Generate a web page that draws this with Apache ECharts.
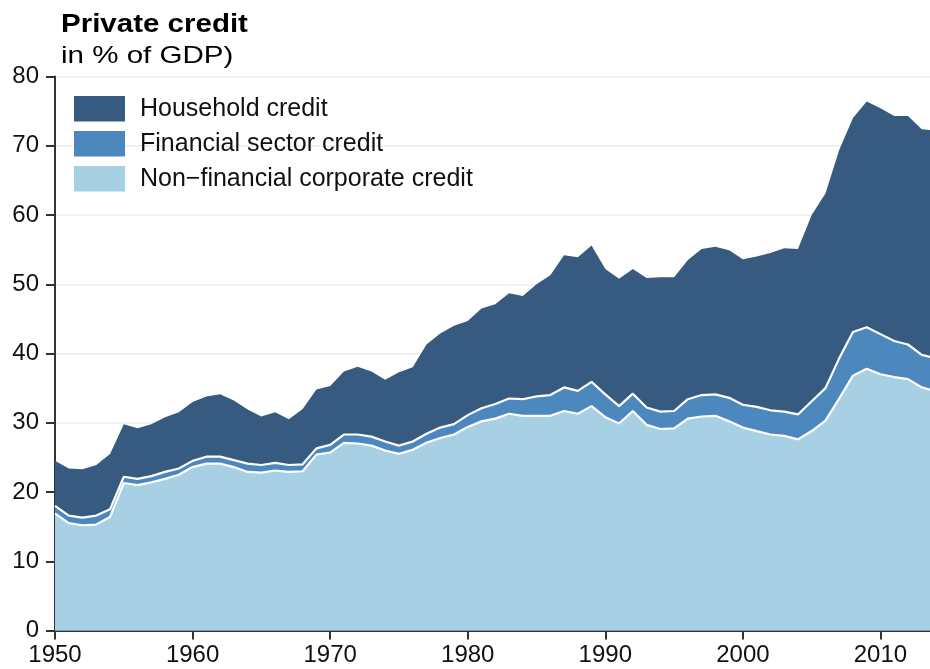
<!DOCTYPE html>
<html>
<head>
<meta charset="utf-8">
<title>Private credit</title>
<script src="https://cdn.jsdelivr.net/npm/echarts@6/dist/echarts.min.js"></script>
<style>
  html, body { margin: 0; padding: 0; background: #fff; }
  #chart { width: 930px; height: 669px; }
</style>
</head>
<body>
<div id="chart"></div>
<script>
// years (last one sits just past the right edge of the plot)
const years = [
  1950, 1951, 1952, 1953, 1954, 1955, 1956, 1957, 1958, 1959,
  1960, 1961, 1962, 1963, 1964, 1965, 1966, 1967, 1968, 1969,
  1970, 1971, 1972, 1973, 1974, 1975, 1976, 1977, 1978, 1979,
  1980, 1981, 1982, 1983, 1984, 1985, 1986, 1987, 1988, 1989,
  1990, 1991, 1992, 1993, 1994, 1995, 1996, 1997, 1998, 1999,
  2000, 2001, 2002, 2003, 2004, 2005, 2006, 2007, 2008, 2009,
  2010, 2011, 2012, 2013, 2014
];

// non-financial corporate credit (% of GDP)
const nonFinancial = [
  16.9, 15.5, 15.2, 15.3, 16.4, 21.3, 21.0, 21.4, 21.9, 22.5,
  23.6, 24.1, 24.1, 23.6, 22.9, 22.8, 23.1, 22.9, 23.0, 25.4,
  25.7, 27.1, 27.0, 26.7, 26.0, 25.5, 26.1, 27.1, 27.8, 28.3,
  29.4, 30.2, 30.6, 31.3, 31.0, 31.0, 31.0, 31.7, 31.3, 32.4,
  30.8, 29.9, 31.7, 29.7, 29.1, 29.2, 30.6, 30.9, 31.0, 30.2,
  29.3, 28.8, 28.3, 28.1, 27.6, 28.8, 30.3, 33.5, 36.8, 37.8,
  37.0, 36.6, 36.3, 35.1, 34.6
];

// financial sector credit
const financial = [
  1.1, 1.1, 1.1, 1.3, 1.1, 0.9, 0.9, 0.9, 1.0, 0.9,
  0.9, 1.0, 1.0, 1.0, 1.2, 1.1, 1.1, 1.0, 1.0, 0.9,
  1.1, 1.2, 1.3, 1.3, 1.3, 1.2, 1.2, 1.3, 1.5, 1.5,
  1.7, 1.9, 2.1, 2.2, 2.4, 2.8, 3.0, 3.4, 3.3, 3.5,
  3.3, 2.5, 2.5, 2.5, 2.5, 2.5, 2.8, 3.1, 3.1, 3.4,
  3.3, 3.5, 3.5, 3.5, 3.6, 4.3, 4.7, 5.8, 6.3, 6.0,
  5.8, 5.2, 5.0, 4.7, 4.7
];

// household credit
const household = [
  6.5, 6.8, 7.0, 7.3, 8.0, 7.6, 7.3, 7.5, 7.9, 8.1,
  8.5, 8.7, 9.0, 8.6, 7.8, 7.0, 7.3, 6.6, 8.0, 8.5,
  8.5, 9.1, 9.8, 9.4, 8.9, 10.6, 10.7, 12.9, 13.6, 14.2,
  13.6, 14.4, 14.4, 15.2, 14.9, 16.2, 17.3, 19.1, 19.3, 19.7,
  18.1, 18.4, 18.0, 18.7, 19.4, 19.3, 20.1, 21.1, 21.3, 21.3,
  21.0, 21.7, 22.7, 23.6, 23.9, 26.9, 28.1, 30.1, 30.9, 32.6,
  32.6, 32.5, 33.0, 32.6, 32.9
];

const font = "'Liberation Sans', Arial, Helvetica, sans-serif";

const chart = echarts.init(document.getElementById("chart"), null, { renderer: "canvas" });

// running totals, so each layer can be filled from zero and painted in order
const midTotal = nonFinancial.map((v, i) => v + financial[i]);
const topTotal = midTotal.map((v, i) => v + household[i]);

const pairs = (arr) => years.map((y, i) => [y, +arr[i].toFixed(2)]);

// one area layer (filled down to the axis, lower layers painted on top)
const layer = (name, data, color, border, z) => ({
  name: name,
  type: "line",
  data: pairs(data),
  showSymbol: false,
  symbol: "none",
  z: z,
  clip: true,
  itemStyle: { color: color },
  lineStyle: border ? { color: "#ffffff", width: 2.2 } : { width: 0, color: color },
  areaStyle: { color: color, opacity: 1, origin: "start" },
  emphasis: { disabled: true },
});

const option = {
  animation: false,
  backgroundColor: "#ffffff",
  graphic: [
    {
      type: "text",
      x: 61,
      y: 25,
      scaleX: 1.18,
      style: {
        text: "Private credit",
        font: "bold 25px " + font,
        fill: "#000",
        verticalAlign: "middle",
        align: "left",
      },
    },
    {
      type: "text",
      x: 61,
      y: 56,
      scaleX: 1.23,
      style: {
        text: "in % of GDP)",
        font: "24px " + font,
        fill: "#000",
        verticalAlign: "middle",
        align: "left",
      },
    },
  ],
  legend: {
    orient: "vertical",
    left: 74,
    top: 96,
    padding: 0,
    icon: "rect",
    itemWidth: 51,
    itemHeight: 25.5,
    itemGap: 9.5,
    itemStyle: { borderWidth: 0 },
    selectedMode: false,
    data: ["Household credit", "Financial sector credit", "Non\u2212financial corporate credit"],
    textStyle: {
      fontFamily: font,
      fontSize: 25,
      color: "#111",
      padding: [2, 0, 0, 10],
    },
  },
  grid: {
    left: 55,
    right: 0,
    top: 76.5,
    bottom: 38.5,
  },
  xAxis: {
    type: "value",
    min: 1950,
    max: 2013.6,
    interval: 10,
    axisLine: { show: true, lineStyle: { color: "#333", width: 2 } },
    axisTick: { show: true, length: 9, lineStyle: { color: "#333", width: 2 } },
    axisLabel: {
      margin: 13,
      fontFamily: font,
      fontSize: 24,
      color: "#111",
      showMaxLabel: false,
      formatter: (v) => (v % 10 === 0 ? String(v) : ""),
    },
    splitLine: { show: false },
  },
  yAxis: {
    type: "value",
    min: 0,
    max: 80,
    interval: 10,
    axisLine: { show: true, lineStyle: { color: "#333", width: 2 } },
    axisTick: { show: true, length: 9, lineStyle: { color: "#333", width: 2 } },
    axisLabel: {
      margin: 16,
      fontFamily: font,
      fontSize: 24,
      color: "#111",
    },
    splitLine: { show: true, lineStyle: { color: "#ececec", width: 1.5 } },
  },
  series: [
    layer("Household credit", topTotal, "#375a81", false, 2),
    layer("Financial sector credit", midTotal, "#4c87bd", true, 3),
    layer("Non\u2212financial corporate credit", nonFinancial, "#a8d0e4", true, 4),
  ],
};

chart.setOption(option);

window.addEventListener("resize", function () {
  chart.resize();
});
</script>
</body>
</html>
